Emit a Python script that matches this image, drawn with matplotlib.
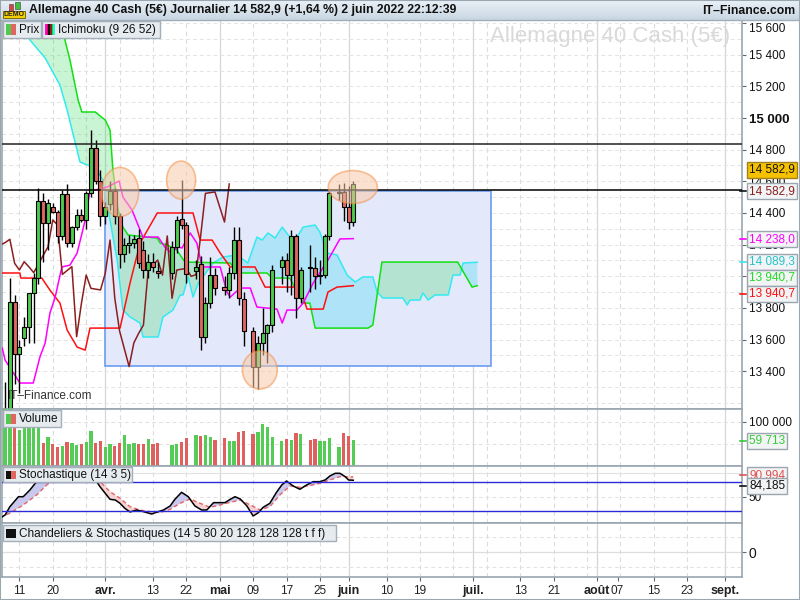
import matplotlib
matplotlib.use("Agg")
import matplotlib.pyplot as plt
from matplotlib.patches import Rectangle, Ellipse
from matplotlib.lines import Line2D
from matplotlib.colors import LinearSegmentedColormap
import numpy as np

plt.rcParams['font.family'] = ['Liberation Sans', 'DejaVu Sans']

# ================= DATA =================
# x positions are chart slots (0 = 1 May)
slots = [-45,-44,-43,-42,-41,-40,-39,-38,-37,-36,-35,-34,-33,-32,-31,-30,-29,-28,-27,-26,-25,-24,-23,-22,-21,-20,-19,-18,-17,-16,-15,-14,-13,
         -10,-9,-8,-7,-5,-4,-3,-2,-1,1,2,3,4,5,7,8,9,10,11,13,14,15,16,17,19,20,21,22,23,25,26,27,28]
opens = [13000,13120,13836,13507,13608,13682,13897,13987,14476,14335,14436,14408,14255,14518,14213,14309,14387,14356,14528,14813,14602,14381,14455,14539,14381,14139,14198,14213,14240,14166,14040,14092,14034,
         14023,14187,14360,14324,14034,14076,13619,13829,14008,13935,13914,14019,14229,13855,13655,13430,13580,13640,13692,14057,14103,14008,14255,13861,14060,14050,14000,14010,14255,14524,14533,14438,14343]
highs = [13334,13990,13880,13600,13745,13760,14023,14556,14524,14490,14461,14420,14545,14583,14320,14423,14423,14540,14924,14860,14669,14470,14600,14560,14400,14240,14260,14260,14300,14220,14140,14150,14090,
         14220,14380,14610,14340,14100,14130,13870,14124,14050,14000,14060,14314,14314,13900,13680,13620,13800,13700,14070,14130,14150,14290,14270,14060,14200,14120,14100,14270,14540,14580,14590,14570,14600]
lows = [12900,13080,13320,13260,13560,13577,13577,13950,14092,14166,14400,14208,14230,14187,14187,14290,14340,14297,14500,14580,14318,14330,14420,14330,14050,14090,14150,14180,14050,13990,13990,14030,13990,
        13980,14150,14300,13960,13980,13534,13580,13800,13880,13880,13860,13980,13820,13560,13300,13290,13500,13450,13650,13950,13900,13880,13735,13830,13900,13920,13950,13990,14230,14480,14350,14300,14320]
closes = [13100,13836,13507,13551,13682,13897,13987,14476,14335,14465,14408,14255,14518,14213,14309,14387,14356,14528,14813,14602,14381,14440,14539,14381,14139,14198,14213,14234,14082,14040,14092,14060,14023,
          14187,14356,14324,14012,14061,13619,13829,14008,13924,13914,14019,14229,13861,13655,13430,13580,13640,13692,14040,14103,14008,14255,13861,14040,14050,14000,14010,14255,14524,14533,14438,14343,14583]
volumes = [140000,140000,100000,82000,95000,93000,90000,93000,53000,67000,50000,44000,45500,54500,51500,47700,50000,54500,79500,52300,56800,43900,50000,46200,52300,71200,50000,51500,50000,50800,61400,50800,53000,
           48500,50800,55300,64400,70500,68900,71200,65900,59100,63600,57600,57600,77300,79500,72700,77300,95500,87900,66700,57600,62100,59100,75000,72700,59800,61400,56800,56800,63600,43200,75800,68900,59713]

# Ichimoku lines (vertices)
tenkan_x = [-45.6,-45.0,-41.9,-39.1,-37.7,-36.6,-35.6,-34.5,-33.1,-31.4,-29.9,-28.2,-27.2,-26.1,-23.6,-21.1,-20.3,-18.4,-16.1,-12.9,-11.5,-10.4,-8.7,-7.9,-6.2,-4.8,-3.7,0.1,1.5,2.2,4.3,6.4,7.8,12.0,13.1,14.1,16.2,17.5,19.6,22.7,25.2,28.0]
tenkan_y = [13547,13471,13326,13326,13490,13579,13768,13869,14059,14071,14147,14356,14539,14545,14564,14602,14501,14419,14248,14248,14185,14154,14185,14179,14274,14210,14059,14059,13901,13869,13926,13926,13806,13793,13705,13787,13787,13831,13958,14103,14236,14238]
kijun_x = [-45.6,-41.9,-41.7,-37.3,-35.6,-33.5,-32.0,-29.9,-28.2,-27.2,-20.9,-18.8,-16.7,-13.1,-5.6,-4.1,-1.6,0.1,2.2,7.4,9.5,16.8,18.3,21.7,22.7,24.6,28.0]
kijun_y = [14021,14021,13989,13989,13913,13831,13661,13553,13534,13673,13673,13958,14210,14400,14400,14229,14229,14147,14059,14059,13932,13932,13793,13793,13901,13932,13941]
ssa_x = [-45.65,-42.9,-39.8,-36.6,-33.5,-32.0,-29.3,-26.1,-24.5,-23.4,-21.5,-20.3,-18.8,-16.7,-16.1,-12.9,-11.9,-9.8,-8.3,-7.7,-6.6,-5.6,-4.5,-1.4,0.7,3.6,5.9,7.8,8.9,10.1,11.6,13.1,14.7,16.2,17.5,20.0,21.0,22.5,24.6,26.7,28.4,30.0,32.1,33.0,34.2,38.4,39.3,39.9,42.0,42.6,43.7,45.1,47.9,48.9,50.4,51.0,54.0]
ssa_y = [15800,15606,15493,15379,15208,15051,14722,14684,14608,14419,14103,13787,13743,13705,13617,13617,13743,13787,13882,13882,13996,13869,13958,14084,14122,14135,14084,14248,14229,14274,14242,14311,14248,14248,14311,14324,14280,14147,14135,14008,13964,13996,13996,13901,13863,13863,13819,13850,13850,13895,13850,13882,13882,14008,14008,14084,14089]
ssb_x = [-45.65,-33.5,-31.4,-29.7,-28.9,-26.1,-24.0,-23.0,-22.4,-21.3,-20.3,-19.2,-15.2,-13.1,-12.5,-11.0,-9.0,-7.3,2.2,3.8,9.9,11.0,14.7,17.5,18.9,20.0,31.1,32.1,34.0,49.9,52.9,54.0]
ssb_y = [16500,15619,15366,15114,15038,15038,14987,14924,14672,14419,14311,14261,14248,14242,14210,14198,14166,14090,14084,14021,14021,13989,13989,13831,13831,13673,13673,13692,14090,14090,13932,13941]

# Stochastic (14 3 5)
k_x = [-46.1,-45.0,-44.0,-42.2,-41.2,-39.8,-38.4,-37.0,-36.0,-33.0,-30.0,-27.5,-25.8,-25.1,-24.0,-23.0,-21.9,-20.9,-19.9,-18.8,-17.4,-16.0,-14.3,-12.9,-11.8,-10.4,-9.4,-8.0,-6.6,-5.2,-3.8,-2.7,-1.3,-0.3,1.1,2.2,3.2,4.3,5.7,7.0,8.1,9.1,10.5,11.9,13.0,14.0,15.4,16.8,18.2,19.6,21.0,22.1,23.1,24.2,25.2,26.3,27.0,28.0]
k_y = [5.5,12.3,29.5,50.2,50.2,64.1,81.3,95.1,100,102,100,98,81.3,70.9,57.2,44.8,43.4,36.5,26.2,18.6,22.7,19.3,14.4,19.3,22.7,31.0,44.8,59.3,50.2,31.0,22.7,22.7,37.9,37.9,37.9,44.8,50.2,45.5,31.0,10.3,17.2,28.2,36.5,59.3,74.4,82.7,72.4,65.5,74.4,81.3,81.3,84.8,93.1,98.6,98.6,91.7,84.8,84.185]
d_x = [-46.1,-44.0,-41.2,-38.4,-36.3,-33,-30,-27,-25.1,-23.0,-20.9,-18.8,-16.8,-14.7,-12.6,-10.4,-8.3,-6.2,-4.1,-2.0,0.1,2.2,4.3,6.4,8.5,10.5,12.6,14.7,16.8,18.9,21.0,23.1,25.2,27.0,28.0]
d_y = [7.6,15.9,33.1,53.7,74.4,95,100,95,81.3,60.6,46.9,29.5,22.7,19.3,17.2,24.1,36.5,45.5,36.5,28.2,33.1,38.6,43.4,33.1,22.7,29.5,53.7,72.4,69.7,73.1,77.9,84.8,91.7,91.7,90.994]

# drawn objects (user drawings on the chart)
level_high = 14834
level_low = 14545
box_x = (-24.0, 56.9)
box_p = (13433, 14539)
ellipses = [(-20.9, 14533, 7.8, 310), (-8.1, 14608, 6.1, 240), (8.4, 13408, 7.3, 240), (27.9, 14564, 10.3, 208)]

tick_pos = [-42, -35, -24, -14, -7, 0, 7, 14, 21, 27, 35, 42, 53, 63, 70, 79, 83.4, 91, 98, 106]
tick_lab = ["11", "20", "avr.", "13", "22", "mai", "09", "17", "25", "juin", "10", "19", "juil.", "13", "21", "août", "07", "15", "23", "sept."]
month_lab = {"avr.", "mai", "juin", "juil.", "août", "sept."}
week_grid = [-42, -35, -28, -21, -14, -7, 7, 14, 21, 35, 42, 49, 56, 63, 70, 77, 84, 91, 98]
month_grid = [-24, 0, 27, 53, 79, 106]

price_ticks = [13400, 13600, 13800, 14000, 14200, 14400, 14600, 14800, 15000, 15200, 15400, 15600]
hidden_price_labels = {14000}

# ================= FIGURE =================
W, H = 800.0, 600.0
fig = plt.figure(figsize=(8, 6), dpi=100)
fig.patch.set_facecolor('white')

def fbox(x0, y0, x1, y1):
    return [x0 / W, 1 - y1 / H, (x1 - x0) / W, (y1 - y0) / H]

XMIN, XMAX = -45.65, 109.5
FRAME = '#9aa6b0'
ax = fig.add_axes(fbox(2, 20, 742, 409))
axv = fig.add_axes(fbox(2, 409, 742, 466))
axs = fig.add_axes(fbox(2, 466, 742, 523))
axc = fig.add_axes(fbox(2, 523, 742, 577))

for a in (ax, axv, axs, axc):
    a.set_xlim(XMIN, XMAX)
    a.set_facecolor('white')
    for s in a.spines.values():
        s.set_color(FRAME)
        s.set_linewidth(1.2)
    a.tick_params(axis='x', which='both', bottom=False, labelbottom=False, top=False)
    a.yaxis.tick_right()
    a.tick_params(axis='y', direction='out', length=3, width=0.8, color='#666666',
                  labelsize=8.5, pad=2, labelcolor='#111111')
    for g in week_grid:
        a.axvline(g, color='#dcdcdc', lw=0.8, ls=(0, (4, 3)), zorder=0)
    for g in month_grid:
        a.axvline(g, color='#d6d6d6', lw=0.9, zorder=0)

# ---- main panel ----
ax.set_ylim(13162, 15619)
for p in range(13200, 15700, 100):
    ax.axhline(p, color='#e4e4e4', lw=0.7, ls=(0, (4, 3)), zorder=0)
ax.set_yticks(price_ticks)
ax.set_yticklabels(["" if p in hidden_price_labels else f"{p:,}".replace(",", " ") for p in price_ticks])
for lab, p in zip(ax.get_yticklabels(), price_ticks):
    if p == 15000:
        lab.set_fontweight('bold')
        lab.set_fontsize(9.5)
    if p == 15600:
        lab.set_verticalalignment('top')

ax.text(0.984, 0.958, "Allemagne 40 Cash (5€)", transform=ax.transAxes, ha='right', va='center',
        fontsize=16, color='#d9d9d9', zorder=0.5)

ax.add_patch(Rectangle((box_x[0], box_p[0]), box_x[1] - box_x[0], box_p[1] - box_p[0],
                       facecolor='#e3e9fb', edgecolor='#6c9cf2', lw=1.2, zorder=1))

# cloud
xs = np.linspace(XMIN, 54, 2000)
A = np.interp(xs, ssa_x, ssa_y)
B = np.interp(xs, ssb_x, ssb_y)
ax.fill_between(xs, A, B, where=B >= A, interpolate=True, color='#2fd95a', alpha=0.26, lw=0, zorder=2)
ax.fill_between(xs, A, B, where=B < A, interpolate=True, color='#35d6f2', alpha=0.30, lw=0, zorder=2)
ax.plot(ssa_x, ssa_y, color='#33eaf0', lw=1.1, zorder=3)
ax.plot(ssb_x, ssb_y, color='#11e011', lw=1.1, zorder=3)
ax.plot(kijun_x, kijun_y, color='#ff1010', lw=1.1, zorder=3)
ax.plot(tenkan_x, tenkan_y, color='#ff00ff', lw=1.1, zorder=3)
s_arr = np.array(slots, dtype=float)
c_arr = np.array(closes, dtype=float)
ax.plot(s_arr - 26, c_arr, color='#8b1e1e', lw=1.1, zorder=3)

# candles
o_arr = np.array(opens, dtype=float)
h_arr = np.array(highs, dtype=float)
l_arr = np.array(lows, dtype=float)
up = c_arr >= o_arr
ccol = np.where(up, '#4fca4f', '#e0665f')
ax.vlines(s_arr, l_arr, h_arr, color='black', lw=1.0, zorder=4)
ax.bar(s_arr, np.maximum(np.abs(c_arr - o_arr), 5), bottom=np.minimum(o_arr, c_arr), width=0.84,
       color=ccol, edgecolor='black', linewidth=0.8, zorder=5)

ax.axhline(level_high, color='#222222', lw=1.1, zorder=6)
ax.axhline(level_low, color='black', lw=1.1, zorder=6)
for (ex, ey, ew, eh) in ellipses:
    ax.add_patch(Ellipse((ex, ey), ew, eh, facecolor='#f9c9a8', edgecolor='#f2904a', lw=1.2, alpha=0.55, zorder=7))

ax.text(0.008, 0.018, "IT–Finance.com", transform=ax.transAxes, fontsize=8.5, color='#333333',
        ha='left', va='bottom', zorder=8)

# ---- volume panel ----
axv.set_ylim(0, 129500)
vcol = np.where(up, '#55cc55', '#e06060')
axv.bar(s_arr, volumes, width=0.7, color=vcol, lw=0, zorder=3)
for v in (50000, 100000):
    axv.axhline(v, color='#e0e0e0', lw=0.7, ls=(0, (4, 3)), zorder=0)
axv.set_yticks([100000])
axv.set_yticklabels(["100 000"])

# ---- stochastic panel ----
axs.set_ylim(-4.2, 113.7)
xs2 = np.linspace(k_x[0], k_x[-1], 1500)
K = np.interp(xs2, k_x, k_y)
D = np.interp(xs2, d_x, d_y)
axs.fill_between(xs2, K, D, where=K >= D, interpolate=True, color='#c9c9f0', lw=0, zorder=1)
axs.fill_between(xs2, K, D, where=K < D, interpolate=True, color='#f7d2d2', lw=0, zorder=1)
axs.plot(d_x, d_y, color='#e46464', lw=1.0, ls=(0, (3, 2)), zorder=2)
axs.plot(k_x, k_y, color='black', lw=1.1, zorder=3)
axs.axhline(100, color='#e2e2e2', lw=0.8, zorder=0)
axs.axhline(50, color='#e2e2e2', lw=0.7, ls=(0, (4, 3)), zorder=0)
axs.axhline(80, color='#2a2ad8', lw=1.0, zorder=4)
axs.axhline(20, color='#2a2ad8', lw=1.0, zorder=4)
axs.set_yticks([50])
axs.set_yticklabels(["50"])

# ---- chandeliers panel ----
axc.set_ylim(-25, 29)
axc.axhline(0, color='#dedede', lw=0.9, zorder=0)
for v in (-15, 15):
    axc.axhline(v, color='#e2e2e2', lw=0.7, ls=(0, (4, 3)), zorder=0)
axc.set_yticks([0])
axc.set_yticklabels(["0"], fontsize=10)
axc.tick_params(axis='x', bottom=True, labelbottom=True, length=3, color='#666666', pad=3)
axc.set_xticks(tick_pos)
axc.set_xticklabels(tick_lab, fontsize=8.5, color='#222222')
for lab in axc.get_xticklabels():
    if lab.get_text() in month_lab:
        lab.set_fontweight('bold')
        lab.set_fontsize(9)

# ---- header ----
axh = fig.add_axes([0, 1 - 20 / H, 1, 20 / H])
axh.imshow(np.linspace(0, 1, 40).reshape(-1, 1), aspect='auto',
           cmap=LinearSegmentedColormap.from_list('h', ['#eaf1f7', '#c8d6e2']), extent=[0, 1, 0, 1])
axh.set_xlim(0, 1); axh.set_ylim(0, 1)
axh.axis('off')
fig.add_artist(Line2D([0, 1], [1 - 20 / H, 1 - 20 / H], transform=fig.transFigure, color='#9fb0bd', lw=1))
fig.text(29 / W, 1 - 10.5 / H, "Allemagne 40 Cash (5€) Journalier 14 582,9 (+1,64 %) 2 juin 2022 22:12:39",
         fontsize=8.8, fontweight='bold', ha='left', va='center', color='#111111')
fig.text(795 / W, 1 - 10.5 / H, "IT–Finance.com", fontsize=8.8, fontweight='bold', ha='right', va='center', color='#111111')

def frect(x0, y0, x1, y1, fc, ec='none', lw=0, z=20):
    fig.add_artist(Rectangle((x0 / W, 1 - y1 / H), (x1 - x0) / W, (y1 - y0) / H, transform=fig.transFigure,
                             facecolor=fc, edgecolor=ec, lw=lw, zorder=z))

# DEMO icon
frect(9, 4, 13, 11, '#e04040', '#555555', 0.5)
frect(15, 2, 20, 9, '#3cc23c', '#555555', 0.5)
frect(3, 11, 25, 18, '#f5d000', '#6a5a00', 0.6)
fig.text(14 / W, 1 - 14.6 / H, "DEMO", fontsize=5, fontweight='bold', ha='center', va='center', color='#222222', zorder=21)

# legend boxes
def legend_box(x0, y0, x1, y1, text, icon):
    frect(x0, y0, x1, y1, '#e6ebef', '#a3aeb8', 1.0)
    n = len(icon)
    iw = 10.0 / n
    for i, col in enumerate(icon):
        frect(x0 + 3 + i * iw, y0 + 3.5, x0 + 3 + (i + 1) * iw, y1 - 3.5, col, z=21)
    fig.text((x0 + 16) / W, 1 - ((y0 + y1) / 2 + 0.5) / H, text, fontsize=8.5, ha='left', va='center',
             color='#111111', zorder=22)

legend_box(3, 21, 41, 38, "Prix", ['#4fca4f', '#e0665f'])
legend_box(42, 21, 160, 38, "Ichimoku (9 26 52)", ['#ff00ff', '#e01010', '#111111', '#8b1e1e', '#11e011', '#33eaf0'])
legend_box(3, 410, 61, 427, "Volume", ['#4fca4f', '#e0665f'])
legend_box(3, 467, 132, 482, "Stochastique (14 3 5)", ['#111111', '#e0665f'])
legend_box(3, 525, 336, 541, "Chandeliers & Stochastiques (14 5 80 20 128 128 128 t f f)", ['#111111'])

# right value boxes
def vbox(y, txt, col, fc='#f3f4f5', ec='#9aa6b0', tick=None):
    fig.text(749 / W, 1 - y / H, txt, fontsize=8.5, color=col, ha='left', va='center', zorder=25,
             bbox=dict(boxstyle='square,pad=0.17', fc=fc, ec=ec, lw=1))
    if tick:
        fig.add_artist(Line2D([740 / W, 746 / W], [1 - y / H, 1 - y / H], transform=fig.transFigure, color=tick, lw=1.2, zorder=24))

vbox(170, "14 582,9", '#111111', fc='#f6c200', ec='#a08020')
vbox(191, "14 582,9", '#8b1e1e', tick='#111111')
vbox(239, "14 238,0", '#ff00ff', tick='#ff00ff')
vbox(262, "14 089,3", '#22c4cc', tick='#33eaf0')
vbox(278, "13 940,7", '#22dd22')
vbox(294, "13 940,7", '#ff1010', tick='#ff1010')
vbox(441, "59 713", '#33cc33', tick='#33cc33')
vbox(475, "90,994", '#e05050', tick='#e05050')
vbox(486, "84,185", '#111111', tick='#111111')

# outer frame
fig.add_artist(Rectangle((0, 0), 1, 1, transform=fig.transFigure, fill=False, ec='#9aa6b0', lw=1.5, zorder=30))

fig.savefig("out.png", dpi=100)
